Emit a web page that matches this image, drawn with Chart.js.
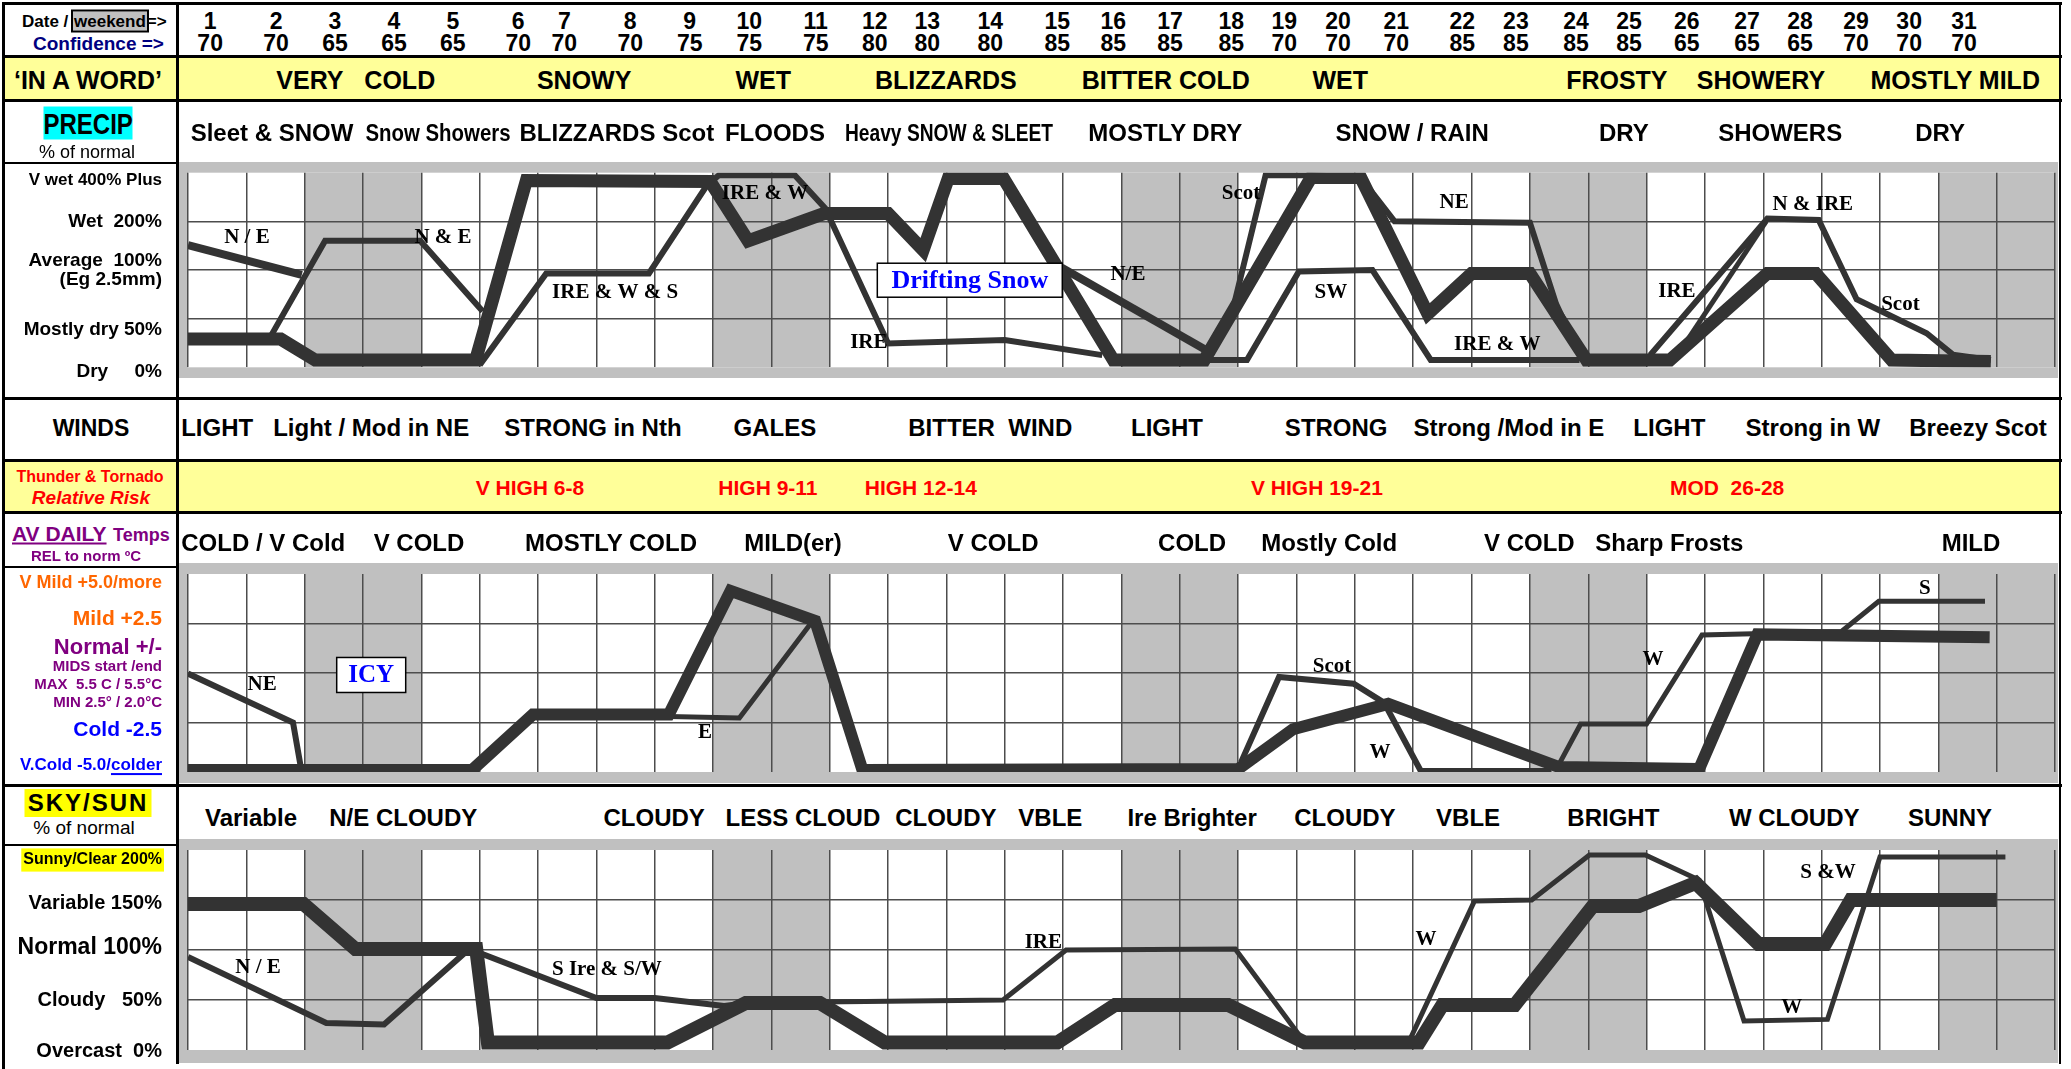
<!DOCTYPE html>
<html>
<head>
<meta charset="utf-8">
<title>Monthly forecast</title>
<script src="https://cdn.jsdelivr.net/npm/chart.js@4.4.0/dist/chart.umd.min.js"></script>
<style>
  html, body { margin: 0; padding: 0; }
  body { width: 2071px; height: 1069px; position: relative; overflow: hidden; background: #fff;
         font-family: "Liberation Sans", Arial, sans-serif; }
  canvas { position: absolute; left: 0; z-index: 1; }
  .ln { position: absolute; background: #000; z-index: 4; }
  .fill { position: absolute; z-index: 0; }
  .t { position: absolute; transform: translate(-50%, -50%); white-space: pre; font-weight: bold; line-height: 1; z-index: 3; }
  .l { position: absolute; transform: translateY(-50%); white-space: pre; font-weight: bold; line-height: 1; z-index: 3; }
</style>
</head>
<body>
<div class="fill" style="left:3px;top:57px;width:2058px;height:43px;background:#ffff99"></div>
<div class="fill" style="left:3px;top:460px;width:2058px;height:52px;background:#ffff99"></div>

<canvas id="precip" width="2071" height="232" style="top:160px"></canvas>
<canvas id="temps" width="2071" height="222" style="top:563px"></canvas>
<canvas id="sun" width="2071" height="230" style="top:839px"></canvas>

<!-- frame lines -->
<div class="ln" style="left:2px;top:2px;width:2060px;height:3px"></div>
<div class="ln" style="left:2px;top:55px;width:2060px;height:3px"></div>
<div class="ln" style="left:2px;top:99px;width:2060px;height:3px"></div>
<div class="ln" style="left:2px;top:397px;width:2060px;height:3px"></div>
<div class="ln" style="left:2px;top:459px;width:2060px;height:3px"></div>
<div class="ln" style="left:2px;top:511px;width:2060px;height:3px"></div>
<div class="ln" style="left:2px;top:784px;width:2060px;height:3px"></div>
<div class="ln" style="left:2px;top:2px;width:3px;height:1067px"></div>
<div class="ln" style="left:176px;top:2px;width:3px;height:1062px"></div>
<div class="ln" style="left:2059px;top:2px;width:2px;height:1062px"></div>
<div class="ln" style="left:2px;top:162px;width:176px;height:2px"></div>
<div class="ln" style="left:2px;top:566px;width:176px;height:2px"></div>
<div class="ln" style="left:2px;top:844px;width:176px;height:2px"></div>

<!-- left column headings -->
<div class="l" style="left:22px;top:21px;font-size:17px">Date / <span style="background:#c0c0c0;outline:2px solid #000;padding:0 1px">weekend</span>=&gt;</div>
<div class="l" style="left:33px;top:43px;font-size:19px;color:#000080">Confidence =&gt;</div>
<div class="t" style="left:88px;top:80px;font-size:25px">‘IN A WORD’</div>
<div class="t" style="left:88px;top:123px;width:89px;height:33px;line-height:33px;text-align:center;background:#00ffff;font-size:24px"><span style="display:inline-block;transform:scaleY(1.25)">PRECIP</span></div>
<div class="t" style="left:87px;top:152px;font-size:18px;font-weight:normal">% of normal</div>
<div class="t" style="left:91px;top:428px;font-size:23px">WINDS</div>
<div class="t" style="left:90px;top:477px;font-size:16px;color:#ff0000">Thunder &amp; Tornado</div>
<div class="t" style="left:91px;top:497px;font-size:19px;color:#ff0000;font-style:italic">Relative Risk</div>
<div class="l" style="left:12px;top:533px;font-size:21px;color:#800080;text-decoration:underline">AV DAILY</div>
<div class="l" style="left:113px;top:535px;font-size:18px;color:#800080">Temps</div>
<div class="t" style="left:86px;top:555px;font-size:15px;color:#800080">REL to norm ºC</div>
<div class="t" style="left:88px;top:803px;width:127px;height:28px;line-height:28px;text-align:center;background:#ffff00;font-size:24px;letter-spacing:2px">SKY/SUN</div>
<div class="t" style="left:84px;top:827px;font-size:19px;font-weight:normal">% of normal</div>

<script>
// ---------- data ----------
var days = [1, 2, 3, 4, 5, 6, 7, 8, 9, 10, 11, 12, 13, 14, 15, 16, 17, 18, 19, 20, 21, 22, 23, 24, 25, 26, 27, 28, 29, 30, 31];
var confidence = [70, 70, 65, 65, 65, 70, 70, 70, 75, 75, 75, 80, 80, 80, 85, 85, 85, 85, 70, 70, 70, 85, 85, 85, 85, 65, 65, 65, 70, 70, 70];
var dayAt = [0.38, 1.51, 2.52, 3.53, 4.54, 5.66, 6.45, 7.58, 8.6, 9.62, 10.76, 11.77, 12.67, 13.75, 14.9, 15.86,
             16.83, 17.88, 18.79, 19.71, 20.71, 21.84, 22.76, 23.79, 24.7, 25.69, 26.72, 27.63, 28.59, 29.5, 30.44];
var weekendDays = [3, 4, 10, 11, 17, 18, 24, 25, 31, 32];

var wordText = ['VERY', 'COLD', 'SNOWY', 'WET', 'BLIZZARDS', 'BITTER COLD', 'WET', 'FROSTY', 'SHOWERY', 'MOSTLY MILD'];
var wordAt = [2.09, 3.63, 6.79, 9.86, 12.99, 16.76, 19.75, 24.49, 26.96, 30.29];
var precipText = ['Sleet & SNOW', 'Snow Showers', 'BLIZZARDS Scot', 'FLOODS', 'Heavy SNOW & SLEET', 'MOSTLY DRY', 'SNOW / RAIN', 'DRY', 'SHOWERS', 'DRY'];
var precipAt = [1.44, 4.29, 7.35, 10.06, 13.04, 16.75, 20.98, 24.61, 27.29, 30.03];
var windText = ['LIGHT', 'Light / Mod in NE', 'STRONG in Nth', 'GALES', 'BITTER  WIND', 'LIGHT', 'STRONG', 'Strong /Mod in E', 'LIGHT', 'Strong in W', 'Breezy Scot'];
var windAt = [0.5, 3.14, 6.94, 10.06, 13.75, 16.78, 19.68, 22.64, 25.39, 27.85, 30.68];
var riskText = ['V HIGH 6-8', 'HIGH 9-11', 'HIGH 12-14', 'V HIGH 19-21', 'MOD  26-28'];
var riskAt = [5.86, 9.94, 12.56, 19.35, 26.38];
var tempText = ['COLD / V Cold', 'V COLD', 'MOSTLY COLD', 'MILD(er)', 'V COLD', 'COLD', 'Mostly Cold', 'V COLD', 'Sharp Frosts', 'MILD'];
var tempAt = [1.29, 3.96, 7.25, 10.37, 13.8, 17.21, 19.56, 22.99, 25.39, 30.56];
var skyText = ['Variable', 'N/E CLOUDY', 'CLOUDY', 'LESS CLOUD', 'CLOUDY', 'VBLE', 'Ire Brighter', 'CLOUDY', 'VBLE', 'BRIGHT', 'W CLOUDY', 'SUNNY'];
var skyAt = [1.08, 3.69, 7.99, 10.54, 12.99, 14.78, 17.21, 19.83, 21.94, 24.43, 27.53, 30.2];

// precip: 0 dry .. 4 very wet
var precipTickText = ['V wet 400% Plus', 'Wet  200%', ['Average  100%', '(Eg 2.5mm)'], 'Mostly dry 50%', 'Dry     0%'];
var precipTickAt = [3.85, 3.0, 2.0, 0.77, -0.1];
var precipMainX = [0, 1.59, 2.18, 4.93, 5.8, 8.95, 9.6, 10.9, 12.0, 12.6, 13.03, 13.98, 15.86, 17.42, 19.25, 20.1, 21.25, 22.0, 23.0, 23.97, 25.4, 27.07, 27.9, 29.2, 30.9];
var precipMainY = [0.58, 0.58, 0.15, 0.15, 3.84, 3.82, 2.6, 3.16, 3.16, 2.41, 3.88, 3.88, 0.15, 0.15, 3.9, 3.9, 1.1, 1.93, 1.93, 0.15, 0.15, 1.93, 1.93, 0.15, 0.12];
var precipNEX = [0, 1.95];
var precipNEY = [2.51, 1.9];
var precipNE2X = [14.97, 17.5];
var precipNE2Y = [2.05, 0.32];
var precipIreX = [1.4, 2.35, 3.98, 5.05, 5.05, 5.0, 6.14, 7.9, 8.9, 9.1, 10.4, 10.92, 12.0, 14.0, 15.67];
var precipIreY = [0.6, 2.6, 2.6, 1.15, null, 0.05, 1.93, 1.93, 3.75, 3.95, 3.95, 3.27, 0.49, 0.56, 0.25];
var precipScotX = [17.9, 18.47, 19.25, 20.1, 20.68, 23.0, 23.45, 23.9];
var precipScotY = [1.15, 3.95, 3.95, 3.9, 3.0, 2.97, 1.3, 0.15];
var precipSWX = [17.42, 18.15, 19.04, 20.3, 21.3, 23.85];
var precipSWY = [0.15, 0.15, 1.97, 2.0, 0.15, 0.15];
var precipLateX = [25.06, 27.07, 27.95, 28.6, 29.8, 30.25, 30.9];
var precipLateY = [0.25, 3.06, 3.03, 1.4, 0.7, 0.26, 0.15];
var precipLate2X = [25.5, 27.05];
var precipLate2Y = [0.2, 3.0];

// temps: relative to normal, deg C
var tempTickText = ['V Mild +5.0/more', 'Mild +2.5', 'Normal +/-', ['MIDS start /end', 'MAX  5.5 C / 5.5°C', 'MIN 2.5° / 2.0°C'], 'Cold -2.5', 'V.Cold -5.0/colder'];
var tempTickAt = [4.55, 2.73, 1.26, -0.6, -2.88, -4.65];
var tempMainX = [0, 4.87, 5.91, 8.24, 9.3, 10.75, 11.56, 18.0, 18.94, 20.57, 23.5, 25.9, 26.9, 30.88];
var tempMainY = [-4.9, -4.9, -2.1, -2.1, 4.15, 2.63, -4.9, -4.85, -2.84, -1.56, -4.75, -4.85, 1.95, 1.8];
var tempNEX = [0, 1.8, 1.93];
var tempNEY = [-0.03, -2.5, -4.7];
var tempEX = [8.24, 9.45, 10.7];
var tempEY = [-2.2, -2.27, 2.6];
var tempScotX = [18.05, 18.7, 19.98, 20.5, 21.13, 23.37];
var tempScotY = [-4.5, -0.2, -0.54, -1.5, -4.95, -4.95];
var tempWX = [23.5, 23.87, 25.0, 25.95, 27.0, 28.34, 28.98, 30.8];
var tempWY = [-4.6, -2.58, -2.58, 1.92, 2.0, 2.1, 3.62, 3.62];

// sky / sun: % of normal
var sunTickText = ['Sunny/Clear 200%', 'Variable 150%', 'Normal 100%', 'Cloudy   50%', 'Overcast  0%'];
var sunTickAt = [190, 147, 102, 50, -1];
var sunMainX = [0, 1.98, 2.87, 4.94, 5.14, 8.22, 9.56, 10.83, 11.94, 14.9, 15.89, 17.83, 19.14, 21.1, 21.5, 22.74, 24.08, 24.87, 25.84, 26.92, 28.06, 28.5, 31.0];
var sunMainY = [146, 146, 101, 101, 7.5, 7.5, 47, 47, 7.5, 7.5, 45, 45, 7.5, 7.5, 45, 45, 144, 144, 167, 106, 106, 150, 150];
var sunNEX = [0, 2.37, 3.36, 4.82, 7.0, 8.0, 9.19, 9.6];
var sunNEY = [93, 27, 25.6, 101, 52, 52, 44, 47];
var sunIreX = [10.83, 13.97, 15.05, 17.95, 19.14, 20.92, 22.05, 23.03, 24.02, 24.98, 25.9, 26.67, 28.1, 29.0, 31.15];
var sunIreY = [48, 50, 100, 101, 7.5, 7.5, 149, 150, 195, 195, 170, 29, 30.6, 193, 193];

// regional notes on the panels: text, day position, value
var precipNotes = [['N / E', 1.01, 2.66], ['N & E', 4.37, 2.66], ['IRE & W & S', 7.32, 1.53], ['IRE & W', 9.89, 3.58],
                   ['IRE', 11.67, 0.5], ['N/E', 16.11, 1.9], ['Scot', 18.05, 3.58], ['SW', 19.59, 1.53], ['NE', 21.7, 3.38],
                   ['IRE & W', 22.44, 0.46], ['IRE', 25.52, 1.55], ['N & IRE', 27.85, 3.34], ['Scot', 29.35, 1.28]];
var tempNotes = [['NE', 1.27, -0.6], ['E', 8.86, -3.03], ['Scot', 19.61, 0.3], ['W', 20.43, -4.0], ['W', 25.11, 0.66], ['S', 29.77, 4.24]];
var sunNotes = [['N / E', 1.2, 82], ['S Ire & S/W', 7.18, 80], ['IRE', 14.66, 107], ['W', 21.22, 110], ['S &W', 28.11, 177], ['W', 27.49, 42]];

// ---------- drawing ----------
var INK = '#333333';
var GRID = '#4d4d4d';
var SANS = '"Liberation Sans", Arial, sans-serif';
var SERIF = '"Liberation Serif", "Times New Roman", serif';
var colLines = [];
for (var c = 0; c <= 32; c++) colLines.push(c);

function pts(xs, ys) {
    return xs.map(function (x, i) { return { x: x, y: ys[i] }; });
}

function bgPlugin(frameTop, frameBottom) {
    return {
        id: 'panelBg',
        beforeDraw: function (chart) {
            var ctx = chart.ctx, a = chart.chartArea, x = chart.scales.x;
            ctx.save();
            ctx.fillStyle = '#c0c0c0';
            ctx.fillRect(179, frameTop, 2058 - 179, frameBottom - frameTop);
            ctx.fillStyle = '#ffffff';
            ctx.fillRect(a.left, a.top, a.right - a.left, a.bottom - a.top);
            ctx.fillStyle = '#c0c0c0';
            weekendDays.forEach(function (d) {
                var x0 = x.getPixelForValue(d - 1), x1 = x.getPixelForValue(d);
                ctx.fillRect(x0, a.top, x1 - x0, a.bottom - a.top);
            });
            ctx.restore();
        }
    };
}

function notesPlugin(notes, box) {
    return {
        id: 'notes',
        afterDatasetsDraw: function (chart) {
            var ctx = chart.ctx, x = chart.scales.x, y = chart.scales.y;
            ctx.save();
            ctx.textAlign = 'center';
            ctx.textBaseline = 'middle';
            ctx.fillStyle = '#000';
            ctx.font = 'bold 21px ' + SERIF;
            notes.forEach(function (n) {
                ctx.fillText(n[0], x.getPixelForValue(n[1]), y.getPixelForValue(n[2]));
            });
            if (box) {
                var cx = x.getPixelForValue(box.at[0]), cy = y.getPixelForValue(box.at[1]);
                ctx.fillStyle = '#fff';
                ctx.fillRect(cx - box.w / 2, cy - box.h / 2, box.w, box.h);
                ctx.strokeStyle = '#000';
                ctx.lineWidth = 1.5;
                ctx.strokeRect(cx - box.w / 2, cy - box.h / 2, box.w, box.h);
                ctx.font = 'bold ' + box.size + 'px ' + SERIF;
                ctx.fillStyle = '#0000ff';
                ctx.fillText(box.text, cx, cy + 1);
            }
            ctx.restore();
        }
    };
}

function makePanel(id, p) {
    return new Chart(document.getElementById(id), {
        type: 'line',
        data: {
            datasets: p.series.map(function (s) {
                return {
                    data: pts(s[0], s[1]), borderWidth: s[2], borderColor: INK,
                    pointRadius: 0, tension: 0, borderJoinStyle: 'miter', borderCapStyle: 'butt',
                    spanGaps: false, fill: false, yAxisID: 'y'
                };
            })
        },
        options: {
            responsive: false,
            animation: false,
            events: [],
            layout: { padding: { left: 0, right: 16, top: p.padTop, bottom: p.padBottom } },
            plugins: { legend: { display: false }, tooltip: { enabled: false } },
            scales: {
                x: {
                    type: 'linear', min: 0, max: 32,
                    afterBuildTicks: function (s) { s.ticks = colLines.map(function (v) { return { value: v }; }); },
                    ticks: { display: false },
                    grid: { color: GRID, lineWidth: 1.5, drawTicks: false },
                    border: { display: false },
                    afterFit: function (s) { s.height = 0; s.paddingLeft = 0; s.paddingRight = 0; }
                },
                y: {
                    type: 'linear', position: 'left', min: p.min, max: p.max,
                    afterBuildTicks: function (s) { s.ticks = p.grid.map(function (v) { return { value: v }; }); },
                    ticks: { display: false },
                    grid: {
                        color: function (c) {
                            return (c.tick && (c.tick.value === p.min || c.tick.value === p.max)) ? 'rgba(0,0,0,0)' : GRID;
                        },
                        lineWidth: 1.5, drawTicks: false
                    },
                    border: { display: false },
                    afterFit: function (s) { s.width = 0; s.paddingTop = 0; s.paddingBottom = 0; }
                },
                yl: {
                    type: 'linear', position: 'left', min: p.min, max: p.max,
                    afterBuildTicks: function (s) { s.ticks = p.tickAt.map(function (v) { return { value: v }; }); },
                    ticks: {
                        autoSkip: false, padding: 26,
                        callback: function (v, i) { return p.tickText[i]; },
                        color: function (c) { return p.tickColor[c.index]; },
                        font: function (c) { return { family: SANS, size: p.tickSize[c.index], weight: 'bold', lineHeight: p.lineHeight }; },
                        showLabelBackdrop: true,
                        backdropColor: function (c) { return c.index === p.backdrop ? '#ffff00' : 'rgba(0,0,0,0)'; },
                        backdropPadding: 2
                    },
                    grid: { display: false, drawTicks: false },
                    border: { display: false },
                    afterFit: function (s) { s.width = 188; s.paddingTop = 0; s.paddingBottom = 0; }
                }
            }
        },
        plugins: [bgPlugin(p.frame[0], p.frame[1]), notesPlugin(p.notes, p.box)]
    });
}

var precipChart = makePanel('precip', {
    min: 0, max: 4, grid: [0, 1, 2, 3, 4], padTop: 12.7, padBottom: 24.7, frame: [2, 218],
    tickText: precipTickText, tickAt: precipTickAt,
    tickSize: [17, 19, 19, 19, 19], tickColor: ['#000', '#000', '#000', '#000', '#000'], lineHeight: 1.0, backdrop: -1,
    series: [
        [precipMainX, precipMainY, 13],
        [precipNEX, precipNEY, 8],
        [precipNE2X, precipNE2Y, 8],
        [precipIreX, precipIreY, 6],
        [precipScotX, precipScotY, 6],
        [precipSWX, precipSWY, 6],
        [precipLateX, precipLateY, 6],
        [precipLate2X, precipLate2Y, 5]
    ],
    notes: precipNotes,
    box: { text: 'Drifting Snow', at: [13.4, 1.79], w: 185, h: 34, size: 26 }
});

var tempChart = makePanel('temps', {
    min: -5, max: 5, grid: [-5, -2.5, 0, 2.5, 5], padTop: 11, padBottom: 13, frame: [0, 220],
    tickText: tempTickText, tickAt: tempTickAt,
    tickSize: [18, 21, 22, 15, 21, 17],
    tickColor: ['#ff6600', '#ff6600', '#800080', '#800080', '#0000ff', '#0000ff'], lineHeight: 1.2, backdrop: -1,
    series: [
        [tempMainX, tempMainY, 12],
        [tempNEX, tempNEY, 6],
        [tempEX, tempEY, 5],
        [tempScotX, tempScotY, 6],
        [tempWX, tempWY, 5]
    ],
    notes: tempNotes,
    box: { text: 'ICY', at: [3.14, -0.1], w: 69, h: 35, size: 25 }
});

var sunChart = makePanel('sun', {
    min: 0, max: 200, grid: [0, 50, 100, 150, 200], padTop: 11, padBottom: 19, frame: [0, 224],
    tickText: sunTickText, tickAt: sunTickAt,
    tickSize: [16, 20, 23, 20, 20], tickColor: ['#000', '#000', '#000', '#000', '#000'], lineHeight: 1.2, backdrop: 0,
    series: [
        [sunMainX, sunMainY, 14],
        [sunNEX, sunNEY, 6],
        [sunIreX, sunIreY, 5]
    ],
    notes: sunNotes,
    box: null
});

// underline "colder" as on the original sheet
(function () {
    var ctx = tempChart.ctx, y = tempChart.scales.y.getPixelForValue(-4.65);
    ctx.save();
    ctx.font = 'bold 17px ' + SANS;
    var w = ctx.measureText('colder').width;
    ctx.fillStyle = '#0000ff';
    ctx.fillRect(162 - w, y + 8, w, 2);
    ctx.restore();
})();

// ---------- text rows, placed on the shared day scale ----------
var xScale = precipChart.scales.x;
var narrow = { 'Snow Showers': 0.85, 'Heavy SNOW & SLEET': 0.8 };

function putRow(texts, at, top, size, color) {
    texts.forEach(function (t, i) {
        var el = document.createElement('div');
        el.className = 't';
        el.textContent = String(t);
        el.style.left = xScale.getPixelForValue(at[i]) + 'px';
        el.style.top = top + 'px';
        el.style.fontSize = size + 'px';
        if (color) el.style.color = color;
        if (narrow[t]) el.style.transform = 'translate(-50%, -50%) scaleX(' + narrow[t] + ')';
        document.body.appendChild(el);
    });
}

putRow(days, dayAt, 21, 23);
putRow(confidence, dayAt, 43, 23);
putRow(wordText, wordAt, 80, 25);
putRow(precipText, precipAt, 133, 24);
putRow(windText, windAt, 428, 24);
putRow(riskText, riskAt, 487, 21, '#ff0000');
putRow(tempText, tempAt, 543, 24);
putRow(skyText, skyAt, 818, 24);
</script>
</body>
</html>
